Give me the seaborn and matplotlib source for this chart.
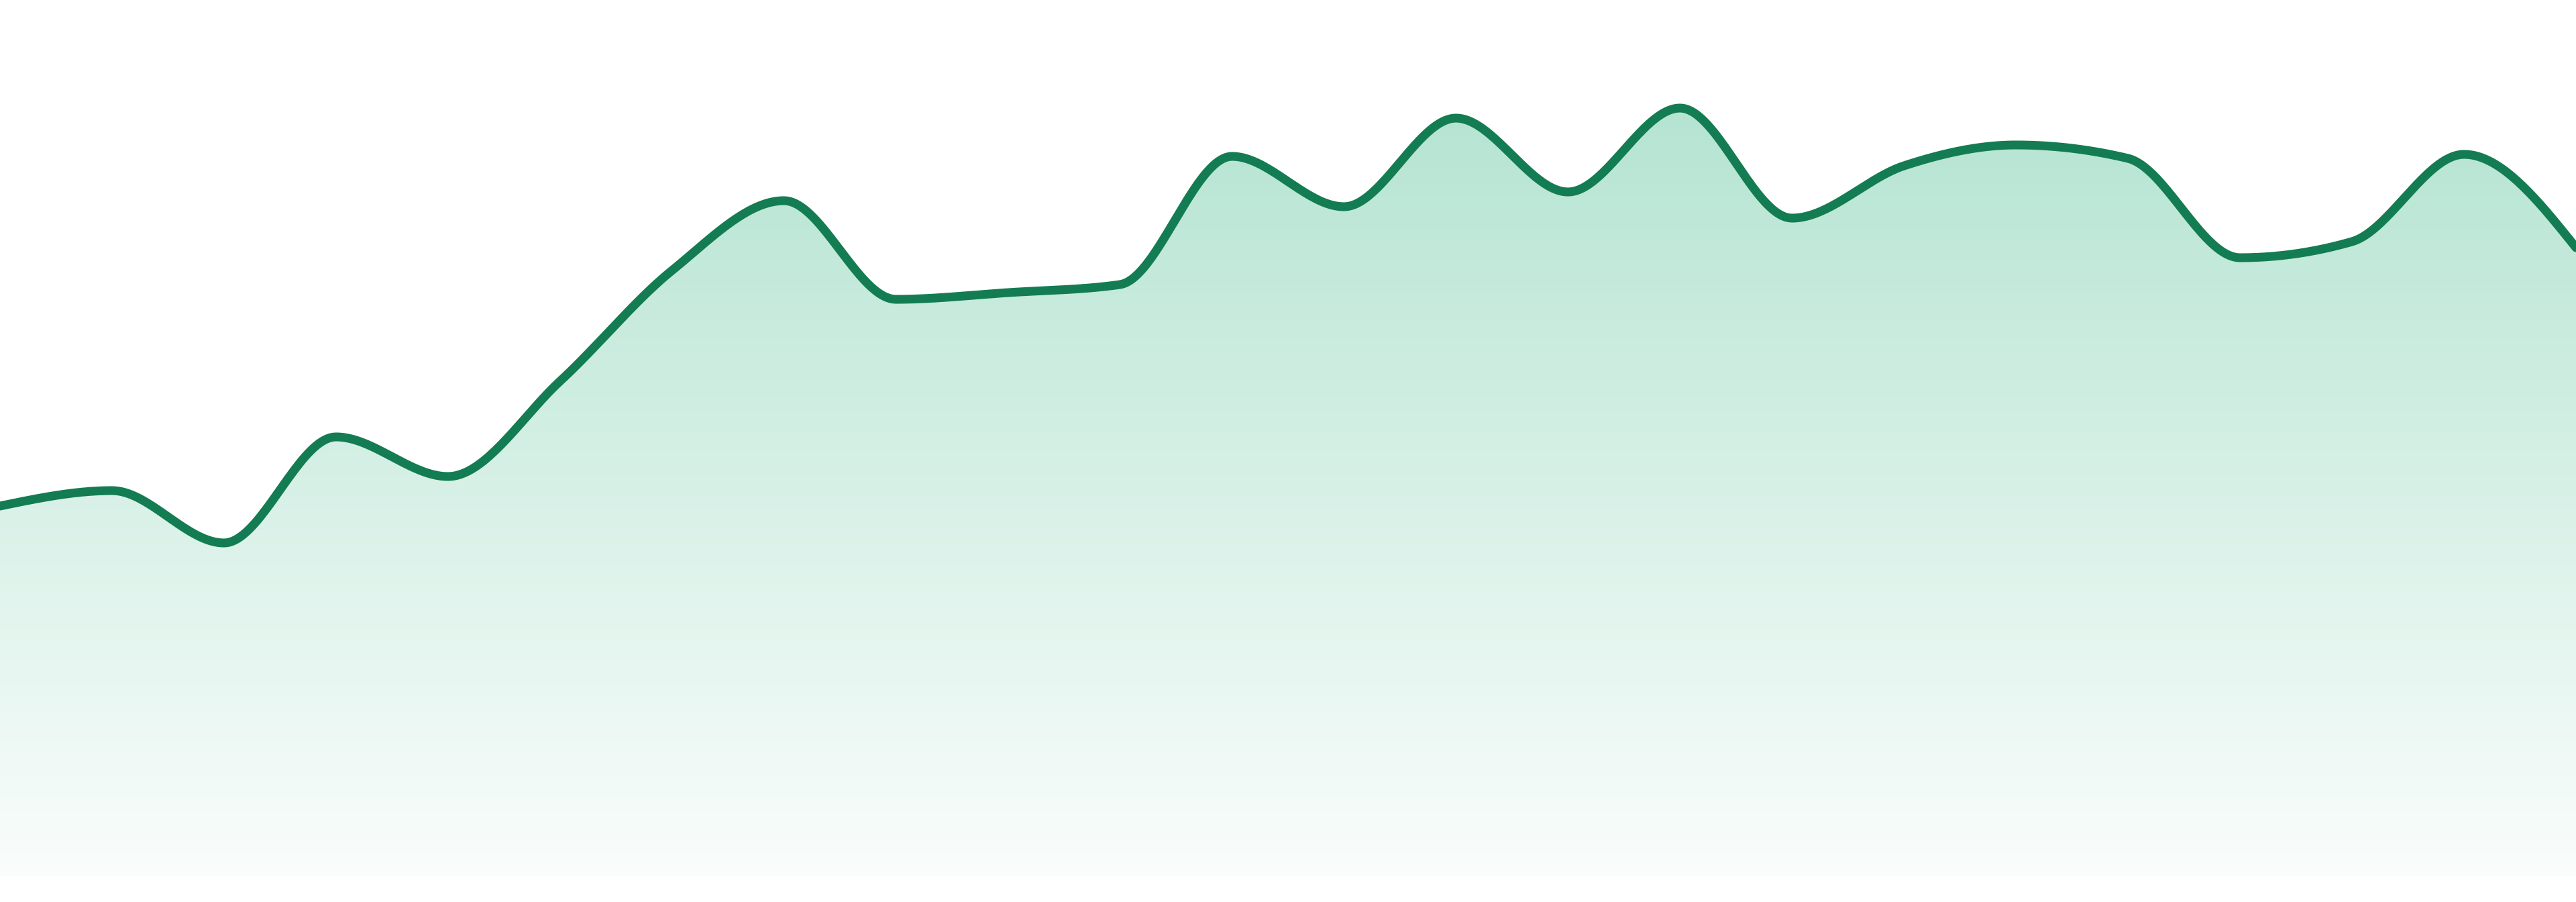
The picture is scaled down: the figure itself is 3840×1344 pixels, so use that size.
import numpy as np
import pandas as pd
import matplotlib
matplotlib.use("Agg")
import matplotlib.pyplot as plt
import seaborn as sns

# 24 points, evenly spaced
periods = list(range(24))
values = [55.1, 57.4, 49.6, 65.4, 59.5, 73.7, 90.2, 100.6, 85.9, 86.9, 88.1, 107.2,
          99.7, 112.9, 101.9, 114.4, 98.0, 105.8, 108.9, 106.9, 92.1, 94.5, 107.5, 93.6]

line_color = "#137c53"
fill_top = np.array([181, 228, 210]) / 255
fill_bottom = np.array([250, 253, 252]) / 255


def monotone_x(x, y, n=40):
    # same smoothing as d3.curveMonotoneX
    x = np.asarray(x, float)
    y = np.asarray(y, float)
    h = np.diff(x)
    s = np.diff(y) / h
    t = np.zeros(len(x))
    for i in range(1, len(x) - 1):
        p = (s[i - 1] * h[i] + s[i] * h[i - 1]) / (h[i - 1] + h[i])
        t[i] = (np.sign(s[i - 1]) + np.sign(s[i])) * min(abs(s[i - 1]), abs(s[i]), 0.5 * abs(p))
    t[0] = (3 * s[0] - t[1]) / 2
    t[-1] = (3 * s[-1] - t[-2]) / 2
    xs, ys = [], []
    for i in range(len(x) - 1):
        u = np.linspace(0, 1, n, endpoint=False)
        h00 = 2 * u**3 - 3 * u**2 + 1
        h10 = u**3 - 2 * u**2 + u
        h01 = -2 * u**3 + 3 * u**2
        h11 = u**3 - u**2
        xs.append(x[i] + u * h[i])
        ys.append(h00 * y[i] + h10 * h[i] * t[i] + h01 * y[i + 1] + h11 * h[i] * t[i + 1])
    xs.append([x[-1]])
    ys.append([y[-1]])
    return np.concatenate(xs), np.concatenate(ys)


sx, sy = monotone_x(periods, values)
curve = pd.DataFrame({"period": sx, "value": sy})

sns.set_style("white")
fig = plt.figure(figsize=(38.4, 13.44), dpi=100)
ax = fig.add_axes([0, 0, 1, 1])

# gradient area under the curve
area = ax.fill_between(sx, sy, 0, color="none", lw=0)
grad = np.linspace(0, 1, 256)[:, None, None]
img = fill_bottom + (fill_top - fill_bottom) * grad
im = ax.imshow(img, extent=[0, 23, 0, 115], origin="lower", aspect="auto", zorder=1)
im.set_clip_path(area.get_paths()[0], transform=ax.transData)

sns.lineplot(data=curve, x="period", y="value", color=line_color, lw=9.4,
             ax=ax, zorder=3, estimator=None, sort=False)

ax.set_xlim(0, 23)
ax.set_ylim(-3.9, 130.5)
ax.axis("off")

fig.savefig("out.png", dpi=100, facecolor="white")
